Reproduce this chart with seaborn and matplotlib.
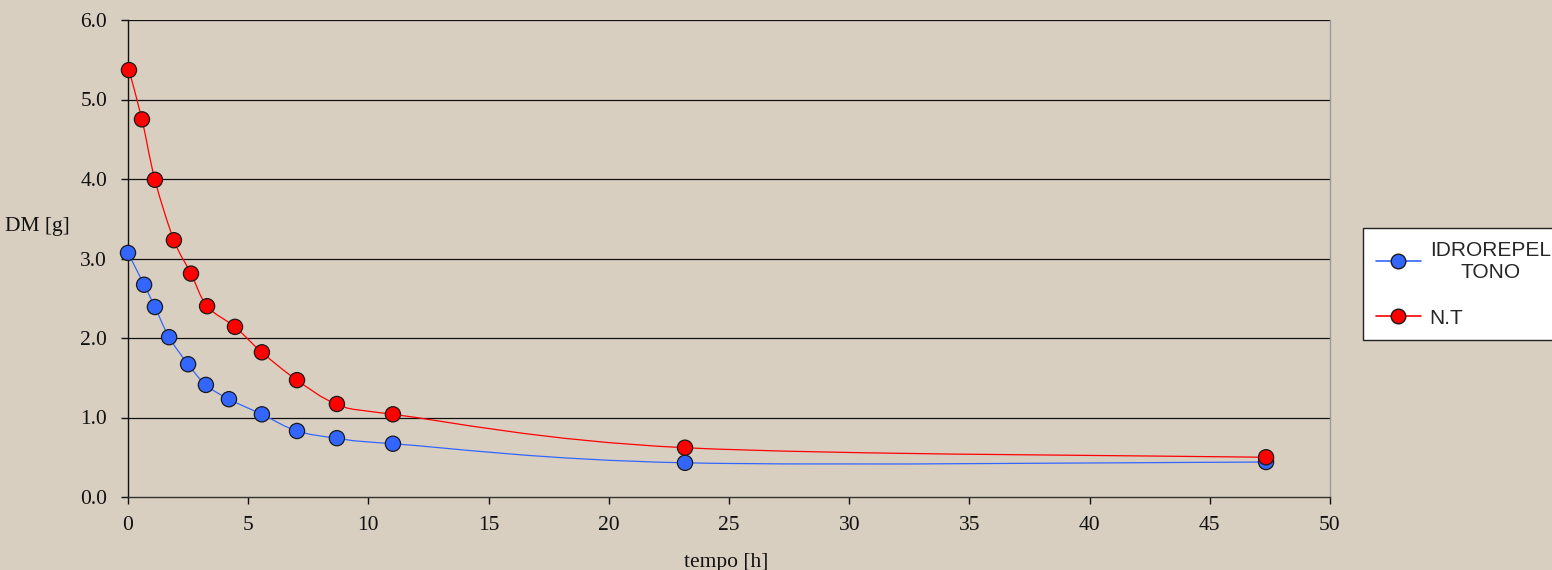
import numpy as np
import pandas as pd
import matplotlib
matplotlib.use("Agg")
import matplotlib.pyplot as plt
from matplotlib.path import Path
from matplotlib.patches import PathPatch
from matplotlib.lines import Line2D
import seaborn as sns

# ---- data ----
tempo_idro = [0.0, 0.67, 1.12, 1.71, 2.50, 3.24, 4.20, 5.57, 7.03, 8.69, 11.02, 23.17, 47.34]
dm_idro = [3.07, 2.67, 2.39, 2.01, 1.67, 1.41, 1.23, 1.04, 0.83, 0.74, 0.67, 0.43, 0.44]
tempo_nt = [0.04, 0.58, 1.12, 1.91, 2.62, 3.29, 4.45, 5.57, 7.03, 8.69, 11.02, 23.17, 47.34]
dm_nt = [5.37, 4.75, 3.99, 3.23, 2.81, 2.40, 2.14, 1.82, 1.47, 1.17, 1.04, 0.62, 0.50]
series_names = ["IDROREPEL\nTONO", "N.T"]
x_ticks = [0, 5, 10, 15, 20, 25, 30, 35, 40, 45, 50]
y_ticks = [0.0, 1.0, 2.0, 3.0, 4.0, 5.0, 6.0]

BG = "#D8CFC1"
BLUE = "#3366FF"
RED = "#FF0000"

sns.set_theme(style="white")
plt.rcParams["font.family"] = ["Liberation Serif", "DejaVu Serif"]

fig = plt.figure(figsize=(15.52, 5.70), dpi=100, facecolor=BG)
ax = fig.add_axes([128 / 1552, 1 - 497 / 570, 1202 / 1552, 477 / 570])
ax.set_facecolor(BG)


def smooth_path(xs, ys):
    pts = np.column_stack([xs, ys]).astype(float)
    n = len(pts)
    verts = [pts[0]]
    codes = [Path.MOVETO]
    for i in range(n - 1):
        p0 = pts[i - 1] if i > 0 else pts[i]
        p1 = pts[i]
        p2 = pts[i + 1]
        p3 = pts[i + 2] if i + 2 < n else pts[i + 1]
        c1 = p1 + (p2 - p0) / 6.0
        c2 = p2 - (p3 - p1) / 6.0
        verts += [c1, c2, p2]
        codes += [Path.CURVE4] * 3
    return Path(verts, codes)


for xs, ys, col in [(tempo_idro, dm_idro, BLUE), (tempo_nt, dm_nt, RED)]:
    ax.add_patch(PathPatch(smooth_path(xs, ys), facecolor="none",
                           edgecolor=col, lw=0.9, zorder=3))

df = pd.concat([
    pd.DataFrame({"tempo": tempo_idro, "dm": dm_idro, "serie": series_names[0]}),
    pd.DataFrame({"tempo": tempo_nt, "dm": dm_nt, "serie": series_names[1]}),
])
sns.scatterplot(data=df, x="tempo", y="dm", hue="serie",
                palette=[BLUE, RED], s=120, edgecolor="#1a1a1a",
                linewidth=0.9, legend=False, ax=ax, zorder=4, clip_on=False)

ax.set_xlim(0, 50)
ax.set_ylim(0, 6)
ax.set_xticks(x_ticks)
ax.set_xticklabels([str(t) for t in x_ticks])
ax.set_yticks(y_ticks)
ax.set_yticklabels([f"{t:.1f}" for t in y_ticks])
for y in y_ticks[1:]:
    ax.axhline(y, color="#111111", lw=0.9, zorder=1)

for side in ["left", "bottom"]:
    ax.spines[side].set_color("#111111")
    ax.spines[side].set_linewidth(1.0)
ax.spines["bottom"].set_color("#333333")
ax.spines["right"].set_color("#9a9a9a")
ax.spines["right"].set_linewidth(1.0)
ax.spines["top"].set_visible(False)

ax.tick_params(axis="both", which="major", direction="out", length=5,
               width=1.0, color="#111111", labelsize=15.5, labelcolor="#111111",
               bottom=True, left=True)
ax.tick_params(axis="y", pad=10)
ax.tick_params(axis="x", pad=9)

ax.set_xlabel("tempo [h]", fontsize=15.5, color="#111111", labelpad=12)
ax.xaxis.set_label_coords((726 - 128) / 1202, -0.0)
ax.xaxis.label.set_verticalalignment("bottom")
ax.xaxis.set_label_coords((726 - 128) / 1202, (497 - 572) / 477)
ax.set_ylabel("DM [g]", fontsize=15.5, color="#111111", rotation=0,
              ha="center", va="center")
ax.yaxis.set_label_coords(-0.0757, 0.568)

handles = [
    Line2D([0], [0], color=BLUE, lw=1.2, marker="o", markersize=10.5,
           markerfacecolor=BLUE, markeredgecolor="#1a1a1a"),
    Line2D([0], [0], color=RED, lw=1.2, marker="o", markersize=10.5,
           markerfacecolor=RED, markeredgecolor="#1a1a1a"),
]
leg = fig.legend(handles, series_names, loc="upper left",
                 bbox_to_anchor=(1363 / 1552, 1 - 228 / 570),
                 frameon=True, fancybox=False, edgecolor="#222222",
                 facecolor="white", framealpha=1.0, handlelength=2.2,
                 handletextpad=0.4, borderpad=0.6, labelspacing=1.3,
                 borderaxespad=0.0,
                 prop={"family": ["Liberation Sans", "DejaVu Sans"], "size": 15})
for t in leg.get_texts():
    t.set_multialignment("center")
leg.get_frame().set_linewidth(1.0)

fig.savefig("out.png", dpi=100, facecolor=BG)
